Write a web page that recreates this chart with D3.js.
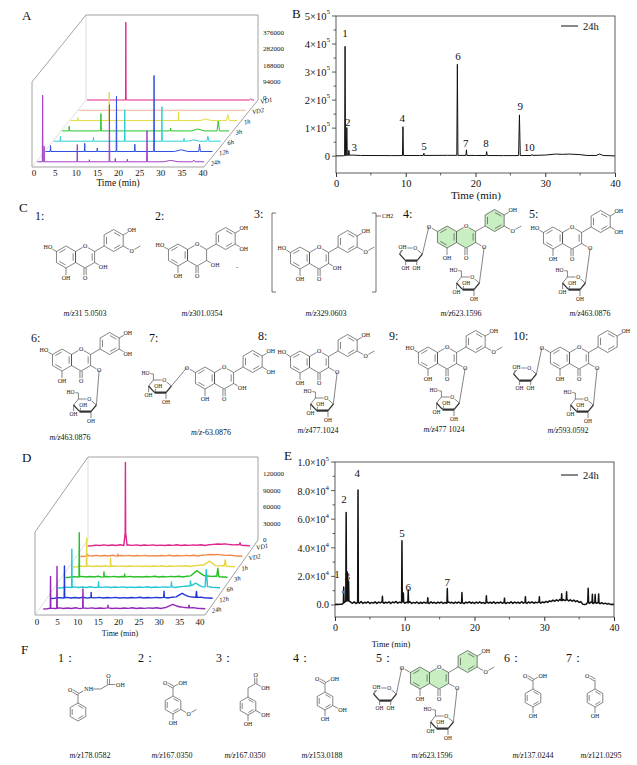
<!DOCTYPE html>
<html><head><meta charset="utf-8">
<script src="https://cdn.jsdelivr.net/npm/d3@7"></script>
<style>body{margin:0;background:#fff}svg{display:block}</style>
</head><body>
<svg id="c" width="637" height="765"></svg>
<script>
// ================= DATA =================
const seriesNames = ["VD1","VD2","1h","3h","6h","12h","24h"];
const colorsA = ["#e5258a","#f6b497","#e3dc3c","#2cc22c","#2ecfd0","#2f4fe0","#a13fc4"];
const colorsD = ["#e0258c","#f08a4b","#e6d640","#25c025","#22c8d2","#2236d6","#9428b8"];
const timeTicks3D = [0,5,10,15,20,25,30,35,40];
const zTicksA = [0,94000,188000,282000,376000];
const zTicksD = [0,30000,60000,90000,120000];
// peaks: [time (min), height, half-width (min)]
const aVD1 = [[9.3,450000,0.08],[39.2,6000,0.3]];
const aVD2 = [[9.3,5000,0.1]];
const a1h  = [[1.8,17000,0.08],[9.3,165000,0.08],[25.9,51000,0.08],[32.4,9000,1.4],[37.7,34000,0.35]];
const a3h  = [[1.7,28000,0.08],[9.3,100000,0.08],[26.0,17000,0.08],[32.5,11000,1.5],[37.4,57000,0.3]];
const a6h  = [[1.6,27000,0.08],[9.5,23000,0.08],[17.0,182000,0.08],[25.9,200000,0.08],[31.2,17000,0.1],[33.5,8000,1.4],[36.9,28000,0.25]];
const a12h = [[1.2,34000,0.08],[9.4,47000,0.08],[12.4,20000,0.08],[17.0,319000,0.08],[21.4,42000,0.08],[26.0,440000,0.08],[32.5,10000,1.6],[36.9,42000,0.2]];
const a24h = [[1.3,385000,0.08],[1.65,90000,0.08],[9.6,100000,0.08],[12.5,12000,0.08],[17.3,330000,0.08],[18.7,20000,0.08],[21.6,16000,0.08],[26.3,180000,0.1],[32.0,8000,1.8],[37.5,10000,0.3]];
const dVD1 = [[9.3,124000,0.06],[9.3,27000,0.4],[37.6,4000,0.2]];
const dVD2 = [[1.8,3000,0.1],[9.3,3000,0.1]];
const d1h  = [[3.4,51000,0.06],[9.3,15000,0.06],[33.7,7000,1.5],[37.6,11000,0.25]];
const d3h  = [[3.4,80000,0.06],[9.5,9000,0.06],[14.6,5000,0.06],[32.5,9000,1.6],[37.6,15000,0.25]];
const d6h  = [[3.4,69000,0.06],[10.0,9000,0.06],[28.0,9000,0.08],[32.7,9000,0.1],[34.0,5000,1.5],[36.6,31000,0.3]];
const d12h = [[3.4,58000,0.06],[10.0,9000,0.06],[28.0,11000,0.08],[32.5,6000,1.5],[36.0,11000,0.15]];
const d24h = [[1.8,58000,0.06],[3.4,76000,0.06],[9.8,35000,0.06],[16.0,5000,0.06],[32.0,5000,1.8],[36.0,5000,0.15]];
// small baseline ripple of the panel D traces (x1000, one value per minute)
const dRipple = [0,0.5,1.5,1.0,2.0,0.8,1.8,1.0,2.2,0.7,1.9,1.2,2.0,0.9,1.7,1.1,2.1,0.8,1.6,1.0,1.9,1.2,2.3,0.9,1.8,1.1,2.0,1.3,2.2,1.0,2.4,3.0,3.6,3.2,3.8,2.6,2.0,2.5,1.4,1.0,0.5];
// Panel B (24h)
const bBase = [[0,1000],[1.1,1500],[2.3,4000],[3.5,2500],[8,2000],[12,2500],[16,3000],[20,2500],[24,2000],[28,2500],[30,4000],[31.5,7500],[32.5,6500],[33.5,7500],[35,5500],[36,2500],[37.3,2500],[37.8,7500],[38.3,2500],[40,1000]];
const bPeaks = [[1.3,390000,0.07],[1.55,100000,0.07],[1.85,18000,0.07],[9.6,103000,0.07],[12.6,8000,0.08],[17.4,325000,0.08],[18.7,20000,0.07],[21.6,14000,0.08],[26.3,145000,0.12],[28.1,4000,0.1]];
const bLabels = ["1","2","3","4","5","6","7","8","9","10"];
const bLabelPos = [[1.3,438000],[1.7,122000],[2.6,32000],[9.5,136000],[12.6,36000],[17.5,359000],[18.6,47000],[21.5,47000],[26.4,180000],[27.7,32000]];
const bYTicks = [0,100000,200000,300000,400000,500000];
const bYMant = ["0","1","2","3","4","5"];
const bYExp = ["","5","5","5","5","5"];
const xTicks = [0,10,20,30,40];
// Panel E (24h) baseline, x1000, every 0.25 min
const eBaseVals = [0.4,0.5,0.4,0.6,0.5, 1.5,2.5,3.0,2.8,2.0,
 1.2,2.2,1.0,2.0,1.3,2.4,1.1,1.9,1.4,2.3, 1.0,1.8,1.3,2.2,1.1,2.0,1.5,2.4,1.2,1.9,
 1.4,2.2,1.0,2.1,1.5,2.5,1.3,2.0,1.6,2.6, 1.2,2.0,1.4,2.3,1.1,1.8,1.3,2.1,1.0,1.9,
 1.2,2.0,1.4,1.8,1.0,2.2,1.3,1.9,1.1,2.0, 1.3,2.1,1.0,1.8,1.2,2.2,1.4,1.9,1.1,2.0,
 1.3,2.1,1.2,1.8,1.0,2.0,1.4,2.2,1.2,1.9, 1.1,2.0,1.3,2.2,1.2,1.8,1.0,2.1,1.4,1.9,
 1.2,2.2,1.1,1.9,1.3,2.1,1.2,2.0,1.0,1.8, 1.3,2.2,1.1,2.0,1.4,1.9,1.2,2.3,1.3,2.0,
 1.1,2.1,1.4,2.2,1.2,1.9,1.5,2.4,1.3,2.1, 1.6,2.5,1.8,2.9,2.4,3.4,2.6,3.6,2.8,3.9,
 2.9,3.8,3.1,4.0,2.8,3.6,2.7,3.4,2.3,3.0, 1.8,2.4,0.6,0.3,0.5,1.9,1.2,2.2,1.0,2.0,
 1.2,1.9,0.9,1.6,0.8,1.3,0.6,1.0,0.4,0.5,0.3];
const ePeaks = [[1.25,11000,0.05],[1.6,62000,0.05],[1.75,20000,0.05],[1.95,14000,0.05],[3.3,78500,0.05],[6.8,4000,0.05],[9.6,43000,0.05],[9.8,6000,0.05],[10.5,9000,0.05],[13.3,3500,0.05],[16.1,10000,0.05],[18.2,7000,0.05],[21.7,4500,0.05],[24.3,3000,0.05],[27.3,4000,0.05],[29.3,3500,0.05],[32.5,5000,0.05],[33.2,5500,0.05],[36.3,10000,0.06],[36.9,6000,0.05],[37.3,5500,0.05],[37.8,6000,0.05]];
const eLabels = ["1","2","3","4","5","6","7"];
const eLabelPos = [[0.3,21800],[1.3,74000],[1.75,20000],[3.2,92000],[9.6,50000],[10.5,12600],[16.1,16000]];
const eYTicks = [0,20000,40000,60000,80000,100000];
const eYMant = ["0.0","2.0","4.0","6.0","8.0","1.0"];
const eYExp = ["","4","4","4","4","5"];
// Structures
const cNums = ["1:","2:","3:","4:","5:","6:","7:","8:","9:","10:"];
const cMz = ["31 5.0503","301.0354","329.0603","623.1596","463.0876","463.0876","-63.0876","477.1024","477 1024","593.0592"];
const fNums = ["1：","2：","3：","4：","5：","6：","7："];
const fMz = ["178.0582","167.0350","167.0350","153.0188","623.1596","137.0244","121.0295"];

// ================= HELPERS =================
const FONT = '"Liberation Serif","DejaVu Serif",serif';
const svg = d3.select("#c").attr("font-family", FONT);
svg.append("rect").attr("width",637).attr("height",765).attr("fill","#fff");

function traceValues(peaks, base) {
  const bt = base ? base : [[0,0],[40,0]];
  const baseAt = t => { for (let i=1;i<bt.length;i++){ if (t<=bt[i][0]){ const a=bt[i-1],b=bt[i]; return a[1]+(b[1]-a[1])*(t-a[0])/(b[0]-a[0]); } } return bt[bt.length-1][1]; };
  const ts = new Set(bt.map(d=>d[0]));
  peaks.forEach(([t,h,w]) => { ts.add(t-w); ts.add(t); ts.add(t+w); });
  const arr = Array.from(ts).filter(t=>t>=0&&t<=40).sort((a,b)=>a-b);
  return arr.map(t => {
    let v = baseAt(t);
    peaks.forEach(([p,h,w]) => { const d=Math.abs(t-p); if (d<w) v += h*(1-d/w); });
    return [t,v];
  });
}
function ln(g,p,q,w,col){ g.append("line").attr("x1",p[0]).attr("y1",p[1]).attr("x2",q[0]).attr("y2",q[1]).attr("stroke",col||"#333").attr("stroke-width",w||0.6); }
function txt(g,x,y,t,o){ o=o||{}; const e=g.append("text").attr("x",x).attr("y",y).attr("font-size",o.fs||10).attr("text-anchor",o.anchor||"start").attr("fill",o.fill||"#111").attr("dominant-baseline",o.db||"auto"); if(o.italic) e.attr("font-style","italic"); if(o.fw) e.attr("font-weight",o.fw); e.text(t); return e; }

// ================= 3D WATERFALLS =================
function draw3D(cfg) {
  const g = svg.append("g");
  const {bx, by, w, h, dv, depths, zmax, zpx, series, colors, zTicks, trange, arange, sw} = cfg;
  const xs = d3.scaleLinear().domain([0,40]).range(trange);
  const xa = d3.scaleLinear().domain([0,40]).range(arange);
  const zs = d3.scaleLinear().domain([0,zmax]).range([0,zpx]);
  const fc = "#8a8a8a";
  ln(g,[bx,by-h],[bx+w,by-h],0.8,fc);
  ln(g,[bx,by-h],[bx,by],0.6,"#c8c8c8");
  ln(g,[bx+w,by-h],[bx+w,by],0.8,fc);
  ln(g,[bx,by-h],[bx+dv[0],by-h+dv[1]],0.8,fc);
  ln(g,[bx+dv[0],by-h+dv[1]],[bx+dv[0],by+dv[1]],0.8,fc);
  ln(g,[bx+dv[0],by+dv[1]],[bx+w+dv[0],by+dv[1]],0.8,fc);
  ln(g,[bx+w,by],[bx+w+dv[0],by+dv[1]],0.8,fc);
  ln(g,[bx,by],[bx+dv[0],by+dv[1]],0.6,"#c8c8c8");
  series.forEach((pk,i) => {
    const dep = depths[i];
    const vals = traceValues(pk, cfg.base);
    const line = d3.line().x(d => bx + xs(d[0]) + dep*dv[0]).y(d => by + dep*dv[1] - zs(d[1]));
    g.append("path").attr("d", line(vals)).attr("fill","none").attr("stroke",colors[i]).attr("stroke-width",sw).attr("stroke-linejoin","round");
    const lx = bx + xs(40) + dep*dv[0] + 7, ly = by + dep*dv[1] + 4;
    txt(g, lx, ly, seriesNames[i], {fs:6.5, italic:true}).attr("transform", `rotate(-12 ${lx} ${ly})`);
  });
  zTicks.forEach(v => txt(g, bx+w+5, by - zs(v) - cfg.zlift, d3.format("d")(v), {fs:7, db:"central"}));
  timeTicks3D.forEach(t => txt(g, bx+dv[0]+xa(t), by+dv[1]+cfg.tly, String(t), {fs:9, anchor:"middle"}));
  txt(g, cfg.tx, cfg.ty, "Time (min)", {fs:cfg.tfs, anchor:"middle"});
}
draw3D({bx:86, by:100, w:172, h:85, dv:[-54,67], depths:[0,1,2,3,4,5,6].map(i=>i*0.1537), zmax:376000, zpx:65, series:[aVD1,aVD2,a1h,a3h,a6h,a12h,a24h], colors:colorsA, zTicks:zTicksA, trange:[1,168], arange:[2,171], sw:1, zlift:2, tly:9, tx:118, ty:186, tfs:9.5});
const dBase = dRipple.map((v,i) => [i, v*1000]);
draw3D({bx:88, by:540, w:170, h:83, dv:[-53,75], depths:[0,1,2,3,4,5,6].map(i=>(6+10.5*i)/75), zmax:120000, zpx:66, series:[dVD1,dVD2,d1h,d3h,d6h,d12h,d24h], colors:colorsD, zTicks:zTicksD, trange:[4,166], arange:[2,165], sw:1.4, zlift:0, tly:10, tx:120, ty:636, tfs:8, base:dBase});

// ================= 2D CHROMATOGRAMS =================
function draw2D(cfg) {
  const g = svg.append("g");
  const x = d3.scaleLinear().domain([0,40]).range(cfg.xr);
  const y = d3.scaleLinear().domain(cfg.yd).range(cfg.yr);
  const [x0,x1] = cfg.xr, [y0,y1] = cfg.yr;
  g.append("rect").attr("x",x0).attr("y",y1).attr("width",x1-x0).attr("height",y0-y1).attr("fill","none").attr("stroke","#333").attr("stroke-width",0.8);
  const xAx = d3.axisBottom(x).tickValues(xTicks).tickSize(4).tickFormat(d3.format("d"));
  const ax = g.append("g").attr("transform",`translate(0,${y0})`).call(xAx);
  ax.select(".domain").remove();
  ax.selectAll("text").attr("font-family",FONT).attr("font-size",cfg.fs).attr("fill","#111");
  ax.selectAll("line").attr("stroke","#333");
  [5,15,25,35].forEach(t => ln(g,[x(t),y0],[x(t),y0+2.5],0.8));
  cfg.yt.forEach((v,i) => {
    ln(g,[x0,y(v)],[x0-4,y(v)],0.8);
    const e = txt(g, x0-6, y(v), "", {fs:cfg.fs, anchor:"end", db:"central"});
    if (cfg.yexp[i]) { e.append("tspan").text(cfg.ymant[i]+"×10"); e.append("tspan").attr("dy",-4).attr("font-size",cfg.fs*0.68).text(cfg.yexp[i]); }
    else e.text(cfg.ymant[i]);
  });
  for (let i=0;i<cfg.yt.length-1;i++) { const v=(cfg.yt[i]+cfg.yt[i+1])/2; ln(g,[x0,y(v)],[x0-2.5,y(v)],0.8); }
  const vals = traceValues(cfg.peaks, cfg.base);
  g.append("path").attr("d", d3.line().x(d=>x(d[0])).y(d=>y(d[1]))(vals)).attr("fill","none").attr("stroke","#111").attr("stroke-width",cfg.sw).attr("stroke-linejoin","round");
  cfg.labels.forEach((l,i) => txt(g, x(cfg.lpos[i][0]), y(cfg.lpos[i][1]), l, {fs:cfg.lfs, anchor:"middle", db:"central"}));
  ln(g,[cfg.leg[0],cfg.leg[1]],[cfg.leg[0]+17,cfg.leg[1]],1,"#111");
  txt(g, cfg.leg[0]+22, cfg.leg[1], "24h", {fs:10.5, db:"central"});
  txt(g, cfg.tx, cfg.ty, "Time (min)", {fs:cfg.tfs, anchor:"middle"});
  return {x,y,g};
}
draw2D({xr:[336,615], yr:[173,16], yd:[-60000,500000], yt:bYTicks, ymant:bYMant, yexp:bYExp, peaks:bPeaks, base:bBase, labels:bLabels, lpos:bLabelPos, fs:10.5, lfs:11, sw:1, leg:[561,26], tx:476, ty:199, tfs:11});
const eBase = eBaseVals.map((v,i) => [i*0.25, v*1000]);
const E = draw2D({xr:[335,614], yr:[617,462], yd:[-8400,100000], yt:eYTicks, ymant:eYMant, yexp:eYExp, peaks:ePeaks, base:eBase, labels:eLabels, lpos:eLabelPos, fs:10, lfs:11, sw:1.5, leg:[561,475], tx:391, ty:647, tfs:8.5});
E.g.append("circle").attr("cx",E.x(1.15)).attr("cy",E.y(9000)).attr("r",1.3).attr("fill","#4a7fd0");

// panel letters
[["A",22,20],["B",292,18],["C",19,212],["D",22,462],["E",284,460],["F",21,654]].forEach(d => txt(svg,d[1],d[2],d[0],{fs:13}));

// ================= STRUCTURES =================
const mg = svg.append("g");
const rad = a => a*Math.PI/180;
const pt = (p,a,d) => [p[0]+d*Math.cos(rad(a)), p[1]+d*Math.sin(rad(a))];
const hex = (c,L) => [-90,-30,30,90,150,210].map(a => pt(c,a,L));
function poly(pts, fill){ mg.append("polygon").attr("points", pts.map(p=>p.join(",")).join(" ")).attr("fill",fill||"none").attr("stroke","#333").attr("stroke-width",0.6); }
function inner(c,p,q,L){ const mx=(p[0]+q[0])/2,my=(p[1]+q[1])/2,vx=c[0]-mx,vy=c[1]-my,vl=Math.hypot(vx,vy),o=0.22*L,sx=vx/vl*o,sy=vy/vl*o,dx=q[0]-p[0],dy=q[1]-p[1];
  ln(mg,[p[0]+sx+dx*0.17,p[1]+sy+dy*0.17],[q[0]+sx-dx*0.17,q[1]+sy-dy*0.17]); }
function dbl(p,q){ const dx=q[0]-p[0],dy=q[1]-p[1],l=Math.hypot(dx,dy),nx=-dy/l*1.1,ny=dx/l*1.1; ln(mg,[p[0]+nx,p[1]+ny],[q[0]+nx,q[1]+ny]); ln(mg,[p[0]-nx,p[1]-ny],[q[0]-nx,q[1]-ny]); }
function lab(p,t,fs){ mg.append("text").attr("x",p[0]).attr("y",p[1]).attr("text-anchor","middle").attr("dominant-baseline","central").attr("font-size",fs||6).attr("paint-order","stroke").attr("stroke","#fff").attr("stroke-width",2).attr("fill","#222").text(t); }
function benz(c,L,fill){ const R=hex(c,L); poly(R,fill); [[4,5],[0,1],[2,3]].forEach(([i,j])=>inner(c,R[i],R[j],L)); return R; }
function flavone(c,L,o){
  const A=hex(c,L), cc=[c[0]+Math.sqrt(3)*L,c[1]], C=hex(cc,L);
  const c1=pt(C[1],-30,L), bc=pt(c1,-30,L), B=hex(bc,L);
  const fill = o.green ? "#c8eec2" : "none";
  poly(A,fill); poly(C,fill); poly(B,fill); ln(mg,C[1],c1);
  [[3,4],[5,0],[1,2]].forEach(([i,j])=>inner(c,A[i],A[j],L));
  if (!o.noC23) inner(cc,C[1],C[2],L);
  [[4,5],[0,1],[2,3]].forEach(([i,j])=>inner(bc,B[i],B[j],L));
  const d=L*0.9;
  const o4=pt(C[3],90,d); dbl(C[3],o4); lab(o4,"O");
  const o5=pt(A[3],90,d); ln(mg,A[3],o5); lab(o5,"OH");
  const o7=pt(A[5],210,d); ln(mg,A[5],o7); lab(o7,o.c7||"HO");
  const o3=pt(C[2],30,d); ln(mg,C[2],o3); lab(o3,o.c3||"OH");
  const b4=pt(B[1],-30,d); ln(mg,B[1],b4); lab(b4,"OH");
  if (o.b3){ const b3=pt(B[2],30,d); ln(mg,B[2],b3); if(o.b3==="OMe"){ ln(mg,b3,pt(b3,-30,d)); lab(b3,"O"); } else lab(b3,"OH"); }
  lab(C[0],"O");
  return {o3,o7,A,C,B};
}
function sugar(c,s,kind){
  const P=k=>[c[0]+k[0]*s,c[1]+k[1]*s];
  const C5=P([-0.55,-0.5]),O=P([0.35,-0.5]),C1=P([0.95,0]),C2=P([0.5,0.55]),C3=P([-0.45,0.55]),C4=P([-0.95,0]);
  ln(mg,C5,O); ln(mg,O,C1); ln(mg,C1,C2,1.2); ln(mg,C2,C3,2.2); ln(mg,C3,C4,1.2); ln(mg,C4,C5);
  if (kind==="glc"){
    const a=P([-0.55,-1.0]); ln(mg,C5,a); ln(mg,a,P([-0.95,-1.05])); lab(P([-1.2,-1.05]),"HO",5.5);
    ln(mg,C4,P([-0.95,0.6])); lab(P([-0.95,0.75]),"OH",5.5);
    ln(mg,C3,P([-0.3,0.05])); lab(P([-0.15,0.02]),"OH",5.5);
    ln(mg,C2,P([0.5,1.15])); lab(P([0.5,1.3]),"OH",5.5);
  } else {
    ln(mg,C4,P([-0.75,-0.45])); lab(P([-0.7,-0.6]),"OH",5.5);
    ln(mg,C3,P([-0.45,1.05])); lab(P([-0.45,1.2]),"OH",5.5);
    ln(mg,C2,P([0.45,1.05])); lab(P([0.45,1.2]),"OH",5.5);
  }
  lab(O,"O",5.5);
  return C1;
}
function mz(x,y,v){ const e=txt(mg,x,y,"",{fs:8,anchor:"middle"}); e.append("tspan").attr("font-style","italic").text("m/z"); e.append("tspan").text(v); }
function link(p,q){ ln(mg,p,q); }

// --- C row 1 ---
const cNumPos = [[35,220],[155,220],[254,218],[403,218],[529,218],[31,342],[149,342],[258,340],[389,340],[513,340]];
cNums.forEach((t,i)=>txt(mg,cNumPos[i][0],cNumPos[i][1],t,{fs:12}));
const cMzPos = [[85,316],[202,316],[326,316],[461,316],[590,316],[70,440],[211,435],[318,433],[444,432],[568,433]];
cMz.forEach((t,i)=>mz(cMzPos[i][0],cMzPos[i][1],t));

flavone([66,257],11,{b3:"OMe"});
flavone([178,255],11,{b3:"OH",noC23:true}); txt(mg,236,268,".",{fs:9});
flavone([300,258],11,{b3:"OMe"});
ln(mg,[272,213],[272,292],0.7); ln(mg,[272,213],[276,213],0.7); ln(mg,[272,292],[276,292],0.7);
ln(mg,[376,213],[376,292],0.7); ln(mg,[376,213],[372,213],0.7); ln(mg,[376,292],[372,292],0.7);
ln(mg,[376,216],[381,216],0.7); txt(mg,382,216,"CH2",{fs:6,db:"central"});
let r;
r=flavone([447,237],11,{b3:"OMe",c3:"O",c7:"O",green:true}); link(r.o7,sugar([411,254],12,"pent")); link(r.o3,sugar([468,283],12,"glc"));
r=flavone([553,238],11,{b3:"OH",c3:"O"}); link(r.o3,sugar([574,283],12,"glc"));
// --- C row 2 ---
r=flavone([62,360],11,{b3:"OH",c3:"O"}); link(r.o3,sugar([85,405],12,"glc"));
r=flavone([205,378],11,{b3:"OH",c7:"O"}); link(r.o7,sugar([160,386],12,"glc"));
r=flavone([300,362],11,{b3:"OMe",c3:"O"}); link(r.o3,sugar([322,404],12,"glc"));
r=flavone([428,358],11,{b3:"OMe",c3:"O"}); link(r.o3,sugar([448,403],12,"glc"));
r=flavone([560,358],11,{c3:"O",c7:"O"}); link(r.o7,sugar([525,374],12,"pent")); link(r.o3,sugar([582,405],12,"glc"));

// --- F row ---
const fNumPos = [[58,662],[138,662],[216,662],[293,662],[376,662],[504,662],[566,662]];
fNums.forEach((t,i)=>txt(mg,fNumPos[i][0],fNumPos[i][1],t,{fs:12}));
const fMzPos = [[90,758],[172,758],[245,758],[322,758],[432,758],[533,758],[601,758]];
fMz.forEach((t,i)=>mz(fMzPos[i][0],fMzPos[i][1],t));
const L9=9;
// F1 hippuric acid
{ const R=benz([78,712],L9); const cc=pt(R[0],-90,L9); ln(mg,R[0],cc); const o=pt(cc,210,L9); dbl(cc,o); lab(o,"O");
  const n=pt(cc,-30,L9+1); ln(mg,cc,n); lab([n[0]+2,n[1]],"NH"); const ch=[n[0]+14,n[1]]; ln(mg,[n[0]+6,n[1]],ch); const ca=pt(ch,-30,L9); ln(mg,ch,ca);
  const o2=pt(ca,-90,L9); dbl(ca,o2); lab(o2,"O"); const oh=[ca[0]+10,ca[1]]; ln(mg,ca,oh); lab([oh[0]+2,oh[1]],"OH"); }
// F2 vanillic acid
{ const R=benz([173,705],L9); const cc=pt(R[0],-90,L9); ln(mg,R[0],cc); const o=pt(cc,210,L9); dbl(cc,o); lab(o,"O"); const oh=pt(cc,-30,L9); ln(mg,cc,oh); lab([oh[0]+2,oh[1]],"OH");
  const om=pt(R[2],30,L9); ln(mg,R[2],om); ln(mg,om,pt(om,-30,L9)); lab(om,"O"); const o4=pt(R[3],90,L9); ln(mg,R[3],o4); lab(o4,"OH"); }
// F3 dihydroxyphenylacetic acid
{ const R=benz([248,706],L9); const ch=pt(R[0],-90,L9); ln(mg,R[0],ch); const cc=pt(ch,-30,L9); ln(mg,ch,cc); const o=pt(cc,-90,L9); dbl(cc,o); lab(o,"O");
  const oh=pt(cc,30,L9); ln(mg,cc,oh); lab([oh[0]+2,oh[1]],"OH"); const o3=pt(R[2],30,L9); ln(mg,R[2],o3); lab([o3[0]+2,o3[1]],"OH"); const o4=pt(R[3],90,L9); ln(mg,R[3],o4); lab(o4,"OH"); }
// F4 protocatechuic acid
{ const R=benz([325,701],L9); const cc=pt(R[0],-90,L9); ln(mg,R[0],cc); const o=pt(cc,210,L9); dbl(cc,o); lab(o,"O"); const oh=pt(cc,-30,L9); ln(mg,cc,oh); lab([oh[0]+2,oh[1]],"OH");
  const o3=pt(R[2],30,L9); ln(mg,R[2],o3); lab([o3[0]+2,o3[1]],"OH"); const o4=pt(R[3],90,L9); ln(mg,R[3],o4); lab(o4,"OH"); }
// F5 flavonoid glycoside
r=flavone([420,678],11,{b3:"OMe",c3:"O",c7:"O",green:true}); link(r.o7,sugar([385,694],12,"pent")); link(r.o3,sugar([442,722],12,"glc"));
// F6 p-hydroxybenzoic acid
{ const R=benz([533,698],L9); const cc=pt(R[0],-90,L9); ln(mg,R[0],cc); const o=pt(cc,210,L9); dbl(cc,o); lab(o,"O"); const oh=pt(cc,-30,L9); ln(mg,cc,oh); lab([oh[0]+2,oh[1]],"OH");
  const o4=pt(R[3],90,L9); ln(mg,R[3],o4); lab(o4,"OH"); }
// F7 p-hydroxybenzaldehyde
{ const R=benz([595,698],L9); const cc=pt(R[0],-90,L9); ln(mg,R[0],cc); const o=pt(cc,210,L9); dbl(cc,o); lab(o,"O");
  const o4=pt(R[3],90,L9); ln(mg,R[3],o4); lab(o4,"OH"); }
</script>
</body></html>
